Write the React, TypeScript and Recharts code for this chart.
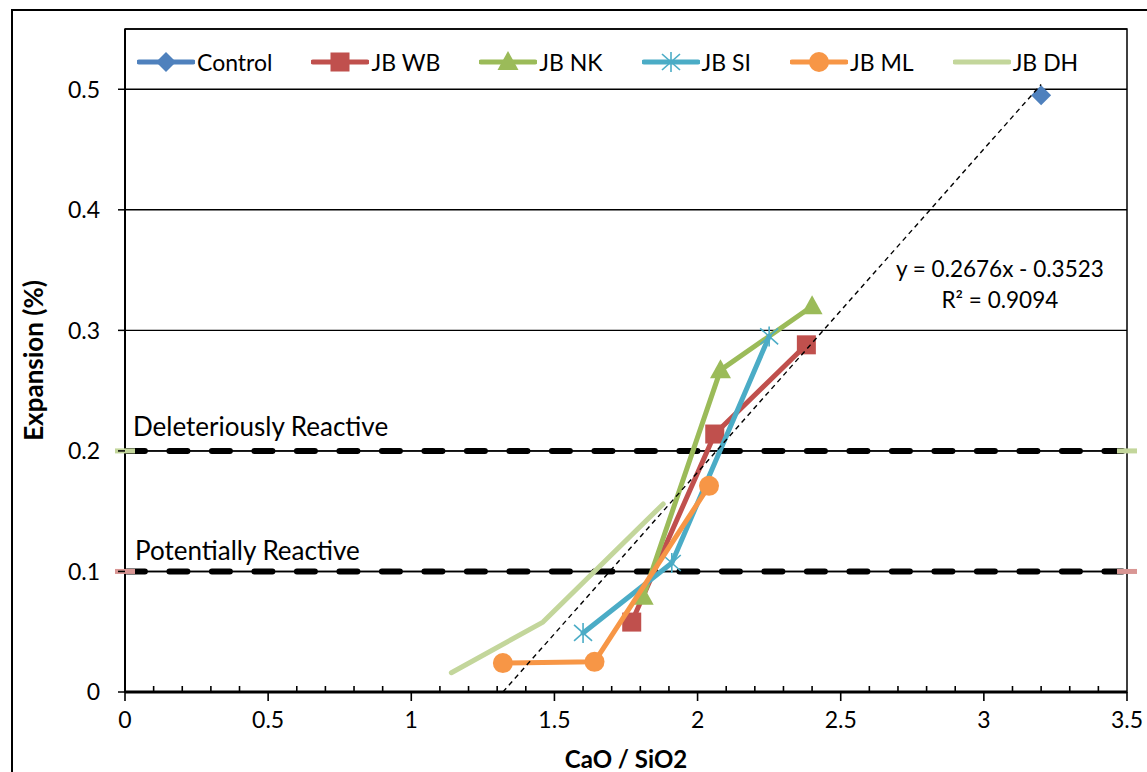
import React from 'react';
import { ScatterChart, Scatter, XAxis, YAxis, CartesianGrid, ReferenceArea, ReferenceDot, Legend } from 'recharts';

const FONT = "Lato, 'Open Sans', 'DejaVu Sans', sans-serif";

// series (CaO/SiO2 vs expansion %)
const controlData = [{ x: 3.2, y: 0.495 }];
const wbData = [{ x: 1.77, y: 0.058 }, { x: 2.06, y: 0.214 }, { x: 2.38, y: 0.288 }];
const nkData = [{ x: 1.81, y: 0.079 }, { x: 2.08, y: 0.267 }, { x: 2.4, y: 0.32 }];
const siData = [{ x: 1.6, y: 0.049 }, { x: 1.91, y: 0.107 }, { x: 2.25, y: 0.295 }];
const mlData = [{ x: 1.32, y: 0.024 }, { x: 1.64, y: 0.025 }, { x: 2.04, y: 0.171 }];
const dhData = [{ x: 1.14, y: 0.016 }, { x: 1.46, y: 0.058 }, { x: 1.88, y: 0.156 }];
const trendData = [{ x: 1.32, y: 0 }, { x: 3.2, y: 0.504 }];

const deleteriousData = [{ x: 0, y: 0.2 }, { x: 3.5, y: 0.2 }];
const potentialData = [{ x: 0, y: 0.1 }, { x: 3.5, y: 0.1 }];

const seriesNames = ['Control', 'JB WB', 'JB NK', 'JB SI', 'JB ML', 'JB DH'];
const seriesColors = ['#4f81bd', '#c0504d', '#9bbb59', '#4bacc6', '#f79646', '#c3d69b'];
const seriesMarkers = ['diamond', 'square', 'triangle', 'star', 'circle', 'none'];
const seriesData = [controlData, wbData, nkData, siData, mlData, dhData];

const xTicks = [0, 0.1, 0.2, 0.3, 0.4, 0.5, 0.6, 0.7, 0.8, 0.9, 1, 1.1, 1.2, 1.3, 1.4, 1.5, 1.6, 1.7, 1.8, 1.9, 2,
  2.1, 2.2, 2.3, 2.4, 2.5, 2.6, 2.7, 2.8, 2.9, 3, 3.1, 3.2, 3.3, 3.4, 3.5];
const yTicks = [0, 0.1, 0.2, 0.3, 0.4, 0.5];

function Marker({ kind, cx, cy, color }: { kind: string; cx: number; cy: number; color: string }) {
  if (kind === 'diamond') return <polygon points={`${cx},${cy - 10} ${cx + 10},${cy} ${cx},${cy + 10} ${cx - 10},${cy}`} fill={color} />;
  if (kind === 'square') return <rect x={cx - 9.5} y={cy - 9.5} width={19} height={19} fill={color} />;
  if (kind === 'triangle') return <polygon points={`${cx},${cy - 11} ${cx + 10.5},${cy + 8} ${cx - 10.5},${cy + 8}`} fill={color} />;
  if (kind === 'star')
    return (
      <g stroke={color} strokeWidth={1.6}>
        <line x1={cx} y1={cy - 10} x2={cx} y2={cy + 10} />
        <line x1={cx - 9} y1={cy - 8} x2={cx + 9} y2={cy + 8} />
        <line x1={cx - 9} y1={cy + 8} x2={cx + 9} y2={cy - 8} />
      </g>
    );
  if (kind === 'circle') return <circle cx={cx} cy={cy} r={10} fill={color} />;
  return <g />;
}

const XTick = (props: any) => {
  const { x, y, payload } = props;
  const v = payload.value;
  const major = Math.abs(v * 2 - Math.round(v * 2)) < 1e-6;
  if (!major) return <line x1={x} x2={x} y1={y} y2={y - 6} stroke="#000" strokeWidth={1.6} />;
  return (
    <g>
      <line x1={x} x2={x} y1={y} y2={y + 9} stroke="#000" strokeWidth={1.6} />
      <text x={x} y={y + 36} textAnchor="middle" fontFamily={FONT} fontSize={23} fill="#000">{String(v)}</text>
    </g>
  );
};

const YTick = (props: any) => {
  const { x, y, payload } = props;
  return (
    <g>
      <line x1={x - 7} x2={x} y1={y} y2={y} stroke="#000" strokeWidth={1.5} />
      <text x={x - 25} y={y + 8.3} textAnchor="end" fontFamily={FONT} fontSize={23} fill="#000">{String(payload.value)}</text>
    </g>
  );
};

const LegendBox = () => (
  <div style={{ display: 'flex', alignItems: 'center', gap: 39, fontFamily: FONT, fontSize: 23, color: '#000' }}>
    {seriesNames.map((name, i) => (
      <div key={name} style={{ display: 'flex', alignItems: 'center' }}>
        <svg width={58} height={24}>
          <line x1={2} x2={56} y1={12} y2={12} stroke={seriesColors[i]} strokeWidth={5} strokeLinecap="round" />
          <Marker kind={seriesMarkers[i]} cx={29} cy={12} color={seriesColors[i]} />
        </svg>
        <span style={{ marginLeft: 2 }}>{name}</span>
      </div>
    ))}
  </div>
);

const textShape = (label: string, anchor: string, size: number) => (p: any) => (
  <text x={p.cx} y={p.cy} textAnchor={anchor} fontFamily={FONT} fontSize={size} fill="#000">
    {label}
  </text>
);

export default function App() {
  return (
    <div style={{ position: 'relative', width: 1147, height: 772, overflow: 'hidden', background: '#fff' }}>
      <style>{'body{margin:0;}'}</style>
      <div style={{ position: 'absolute', left: 11, top: 9, width: 1200, height: 800, border: '2px solid #000' }} />
      <div style={{ position: 'absolute', left: 0, top: 0 }}>
        <ScatterChart width={1147} height={772} margin={{ top: 29, right: 20, bottom: 0, left: 0 }}>
          <CartesianGrid horizontal vertical={false} stroke="#000" strokeWidth={1.4} />
          <XAxis
            type="number"
            dataKey="x"
            domain={[0, 3.5]}
            ticks={xTicks}
            interval={0}
            height={80}
            tickSize={0}
            tickMargin={0}
            tickLine={false}
            tick={<XTick />}
            axisLine={{ stroke: '#000', strokeWidth: 3 }}
            label={{
              content: (p: any) => (
                <text x={p.viewBox.x + p.viewBox.width / 2} y={768} textAnchor="middle" fontFamily={FONT} fontSize={24} fontWeight="bold" fill="#000">
                  CaO / SiO2
                </text>
              ),
            }}
          />
          <YAxis
            type="number"
            dataKey="y"
            domain={[0, 0.55]}
            ticks={yTicks}
            interval={0}
            width={125}
            tickSize={0}
            tickMargin={0}
            tickLine={false}
            tick={<YTick />}
            axisLine={{ stroke: '#000', strokeWidth: 2 }}
            label={{
              content: (p: any) => {
                const cy = p.viewBox.y + p.viewBox.height / 2;
                return (
                  <text x={33} y={cy} transform={`rotate(-90 33 ${cy})`} textAnchor="middle" dominantBaseline="central" fontFamily={FONT} fontSize={26} fontWeight="bold" fill="#000">
                    Expansion (%)
                  </text>
                );
              },
            }}
          />
          <ReferenceArea x1={0} x2={3.5} y1={0} y2={0.55} fill="none" stroke="#000" strokeWidth={1.5} ifOverflow="visible" />

          <Scatter data={deleteriousData} line={{ stroke: '#000', strokeWidth: 1.5 }} shape={() => <g />} isAnimationActive={false} />
          <Scatter
            data={deleteriousData}
            line={{ stroke: '#000', strokeWidth: 6, strokeDasharray: '18 24.5', strokeDashoffset: 40.6, strokeLinecap: 'round' }}
            shape={(p: any) => <rect x={p.cx - 10} y={p.cy - 2.5} width={20} height={5} fill="#c3d69b" />}
            isAnimationActive={false}
          />
          <Scatter data={potentialData} line={{ stroke: '#000', strokeWidth: 1.5 }} shape={() => <g />} isAnimationActive={false} />
          <Scatter
            data={potentialData}
            line={{ stroke: '#000', strokeWidth: 6, strokeDasharray: '18 24.5', strokeDashoffset: 40.6, strokeLinecap: 'round' }}
            shape={(p: any) => <rect x={p.cx - 10} y={p.cy - 2.5} width={20} height={5} fill="#d99694" />}
            isAnimationActive={false}
          />

          {seriesData.map((d, i) => (
            <Scatter
              key={seriesNames[i]}
              name={seriesNames[i]}
              data={d}
              line={{ stroke: seriesColors[i], strokeWidth: 5, strokeLinejoin: 'round', strokeLinecap: 'round' }}
              shape={(p: any) => <Marker kind={seriesMarkers[i]} cx={p.cx} cy={p.cy} color={seriesColors[i]} />}
              isAnimationActive={false}
            />
          ))}

          <Scatter data={trendData} line={{ stroke: '#000', strokeWidth: 1.4, strokeDasharray: '5 4' }} shape={() => <g />} isAnimationActive={false} />

          <ReferenceDot x={0.028} y={0.2123} r={0} ifOverflow="visible" shape={textShape('Deleteriously Reactive', 'start', 26)} />
          <ReferenceDot x={0.035} y={0.1095} r={0} ifOverflow="visible" shape={textShape('Potentially Reactive', 'start', 26)} />
          <ReferenceDot x={3.056} y={0.344} r={0} ifOverflow="visible" shape={textShape('y = 0.2676x - 0.3523', 'middle', 22.5)} />
          <ReferenceDot x={3.056} y={0.3184} r={0} ifOverflow="visible" shape={textShape('R² = 0.9094', 'middle', 22.5)} />

          <Legend
            verticalAlign="middle"
            align="center"
            layout="horizontal"
            wrapperStyle={{ top: 48, left: 137, width: 990, height: 28 }}
            content={() => <LegendBox />}
          />
        </ScatterChart>
      </div>
    </div>
  );
}
